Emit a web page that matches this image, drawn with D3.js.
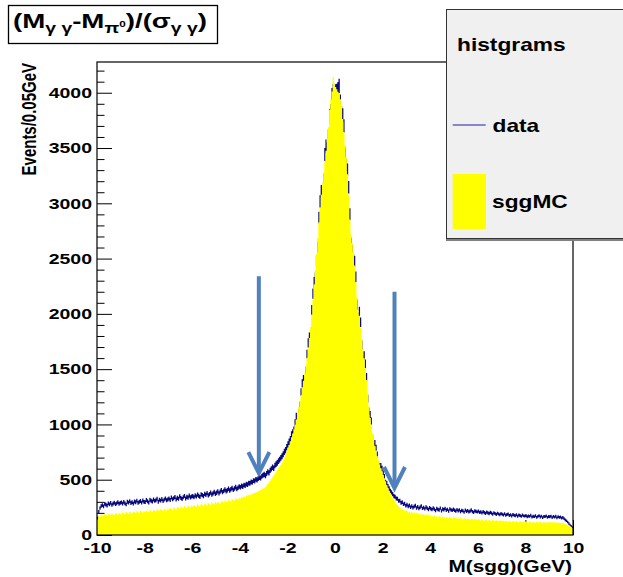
<!DOCTYPE html>
<html>
<head>
<meta charset="utf-8">
<script src="https://cdn.jsdelivr.net/npm/d3@7/dist/d3.min.js"></script>
<style>
  html, body { margin: 0; padding: 0; background: #ffffff; }
  svg { display: block; }
  text { font-family: "Liberation Sans", Arial, Helvetica, sans-serif; font-weight: bold; fill: #000; }
  .tick text { font-size: 15px; }
</style>
</head>
<body>
<svg id="chart" width="623" height="577"></svg>
<script>
// ---- Histogram binning: M(sgg) from -10 to 10 GeV, 0.05 GeV per bin ----
const xMin = -10;
const xMax = 10;
const binWidth = 0.05;

// Measured data, events per bin (one line per GeV)
const dataCounts = [
  152, 212, 243, 262, 270, 259, 281, 274, 266, 285, 277, 290, 271, 284, 292, 279, 286, 297, 281, 290,
  295, 283, 299, 287, 276, 301, 292, 306, 289, 298, 284, 303, 296, 311, 290, 299, 307, 293, 312, 300,
  298, 316, 305, 292, 319, 310, 303, 322, 309, 315, 327, 301, 318, 311, 325, 306, 320, 331, 314, 322,
  330, 317, 339, 324, 333, 344, 321, 336, 328, 349, 335, 326, 342, 353, 331, 345, 338, 356, 340, 348,
  352, 341, 359, 348, 365, 354, 344, 368, 360, 351, 372, 363, 379, 358, 370, 384, 366, 377, 389, 373,
  382, 395, 377, 392, 405, 388, 399, 411, 396, 404, 418, 402, 413, 425, 408, 421, 433, 417, 428, 439,
  432, 445, 438, 452, 447, 461, 455, 470, 466, 481, 476, 492, 488, 503, 497, 512, 520, 515, 531, 540,
  548, 537, 556, 570, 562, 585, 598, 612, 604, 628, 641, 652, 668, 681, 697, 712, 730, 752, 768, 795,
  820, 844, 865, 908, 927, 951, 1014, 1074, 1056, 1104, 1172, 1292, 1371, 1409, 1401, 1481, 1636, 1737, 1789, 1816,
  2036, 2183, 2285, 2324, 2476, 2604, 2871, 3017, 3110, 3106, 3211, 3441, 3517, 3491, 3609, 3790, 3837, 3980, 4016, 4011,
  4014, 4018, 4033, 4062, 3922, 3816, 3799, 3699, 3445, 3347, 3302, 3145, 2901, 2640, 2575, 2501, 2477, 2334, 2084, 1973,
  2020, 1924, 1717, 1621, 1622, 1548, 1428, 1233, 1120, 1088, 1031, 882, 830, 830, 789, 728, 645, 621, 627, 602,
  560, 528, 478, 466, 441, 420, 398, 386, 370, 352, 346, 330, 327, 309, 311, 290, 297, 278, 284, 265,
  274, 259, 268, 251, 263, 247, 258, 266, 244, 255, 239, 251, 262, 241, 248, 236, 253, 242, 231, 246,
  238, 229, 244, 233, 221, 240, 231, 226, 243, 219, 235, 228, 241, 224, 232, 217, 236, 227, 222, 233,
  224, 215, 230, 219, 227, 212, 223, 218, 206, 225, 214, 221, 209, 217, 226, 211, 205, 219, 213, 208,
  215, 204, 210, 199, 212, 203, 196, 207, 200, 193, 205, 198, 188, 201, 194, 186, 197, 190, 183, 195,
  187, 181, 192, 178, 185, 189, 176, 183, 172, 186, 179, 174, 184, 170, 181, 177, 168, 180, 173, 171,
  176, 165, 172, 169, 178, 161, 170, 166, 174, 160, 168, 175, 163, 171, 158, 169, 166, 173, 159, 167,
  165, 171, 158, 168, 162, 170, 155, 166, 160, 163, 152, 159, 148, 137, 129, 118, 104, 93, 81, 68
];

// Simulated signal (sggMC), events per bin
const mcCounts = [
  136, 176, 168, 185, 179, 171, 190, 183, 176, 194, 186, 180, 197, 188, 181, 199, 190, 184, 201, 192,
  186, 203, 195, 189, 208, 199, 192, 211, 204, 196, 213, 205, 199, 216, 207, 201, 219, 210, 204, 217,
  209, 222, 214, 207, 226, 218, 211, 229, 220, 214, 232, 223, 217, 235, 226, 219, 238, 229, 222, 240,
  231, 244, 236, 229, 249, 240, 234, 253, 245, 238, 257, 248, 242, 261, 252, 246, 264, 256, 250, 266,
  257, 270, 262, 255, 275, 267, 260, 280, 271, 265, 285, 276, 269, 289, 281, 274, 293, 284, 278, 296,
  288, 299, 292, 286, 306, 298, 292, 312, 304, 299, 319, 310, 305, 325, 317, 312, 332, 324, 320, 338,
  331, 343, 338, 349, 345, 357, 352, 363, 360, 371, 368, 379, 377, 388, 386, 397, 396, 408, 409, 421,
  423, 435, 448, 462, 476, 491, 506, 522, 538, 555, 572, 588, 603, 619, 636, 655, 677, 701, 728, 756,
  786, 815, 848, 884, 918, 957, 998, 1045, 1102, 1158, 1214, 1267, 1331, 1394, 1458, 1532, 1604, 1688, 1781, 1881,
  1995, 2128, 2266, 2398, 2541, 2687, 2829, 2958, 3077, 3184, 3279, 3383, 3476, 3581, 3688, 3846, 3938, 4012, 4144, 4088,
  4052, 4031, 4008, 3993, 3941, 3897, 3762, 3645, 3528, 3417, 3262, 3079, 2853, 2718, 2641, 2557, 2438, 2286, 2148, 2027,
  1984, 1877, 1772, 1683, 1598, 1509, 1402, 1283, 1161, 1058, 993, 921, 862, 808, 761, 714, 676, 641, 604, 573,
  546, 513, 487, 452, 428, 398, 381, 352, 337, 316, 303, 283, 272, 256, 249, 238, 234, 225, 223, 216,
  219, 206, 213, 200, 209, 196, 205, 193, 201, 189, 198, 186, 195, 183, 191, 180, 188, 177, 185, 174,
  178, 168, 171, 176, 163, 169, 160, 172, 165, 158, 167, 161, 155, 164, 158, 152, 162, 156, 150, 159,
  153, 147, 158, 150, 144, 155, 148, 141, 152, 146, 140, 150, 144, 138, 148, 142, 137, 146, 140, 135,
  144, 137, 132, 141, 135, 130, 139, 133, 128, 137, 131, 127, 136, 130, 125, 134, 129, 124, 133, 127,
  131, 125, 121, 129, 124, 119, 128, 122, 118, 127, 121, 117, 126, 120, 116, 125, 119, 115, 124, 118,
  122, 116, 113, 121, 115, 112, 120, 114, 111, 119, 116, 112, 121, 115, 110, 119, 114, 111, 118, 113,
  117, 113, 116, 112, 115, 111, 114, 110, 113, 109, 111, 107, 104, 100, 96, 91, 85, 78, 70, 62
];

// Axis ticks and labels
const xTickValues = [-10, -8, -6, -4, -2, 0, 2, 4, 6, 8, 10];
const yTickValues = [0, 500, 1000, 1500, 2000, 2500, 3000, 3500, 4000];
const yMax = 4278;
const xTitle = "M(sgg)(GeV)";
const yTitle = "Events/0.05GeV";

// Selection-window arrows (x position, top and tip in event units)
const arrowX = [-3.2, 2.5];
const arrowTop = [2340, 2200];
const arrowTip = [560, 425];

// Legend
const legendHeader = "histgrams";
const seriesNames = ["data", "sggMC"];

// ---- Colours and layout ----
const dataColor = "#0a0a80";
const mcColor = "#ffff00";
const arrowColor = "#4f81bd";
const textScaleX = 1.3;
const plot = { left: 97, right: 573, top: 62, bottom: 535 };

const svg = d3.select("#chart");

const x = d3.scaleLinear().domain([xMin, xMax]).range([plot.left, plot.right]);
const y = d3.scaleLinear().domain([0, yMax]).range([plot.bottom, plot.top]);

const edge = i => xMin + i * binWidth;

// ---- Tick marks (drawn first; histograms cover them) ----
const yMinor = d3.range(100, 4201, 100).filter(v => v % 500 !== 0);
const xMinor = d3.range(-9.6, 10, 0.4).map(v => Math.round(v * 10) / 10).filter(v => Math.abs(v % 2) > 1e-6);

const ticks = svg.append("g").attr("color", "#000");

ticks.append("g")
  .attr("transform", `translate(${plot.left},0)`)
  .call(d3.axisLeft(y).tickValues(yMinor).tickSize(-7.5).tickSizeOuter(0).tickFormat(""))
  .call(g => g.select(".domain").remove());

const yAxis = ticks.append("g")
  .attr("transform", `translate(${plot.left},0)`)
  .call(d3.axisLeft(y).tickValues(yTickValues).tickSize(-15).tickSizeOuter(0).tickPadding(0)
        .tickFormat(d => String(d)))
  .call(g => g.select(".domain").remove());
yAxis.attr("font-size", null).attr("font-family", null);
yAxis.selectAll("text").attr("x", null).attr("transform", `translate(-5,0) scale(${textScaleX},1)`);

ticks.append("g")
  .attr("transform", `translate(0,${plot.bottom})`)
  .call(d3.axisBottom(x).tickValues(xMinor).tickSize(-7.5).tickSizeOuter(0).tickFormat(""))
  .call(g => g.select(".domain").remove());

const xAxis = ticks.append("g")
  .attr("transform", `translate(0,${plot.bottom})`)
  .call(d3.axisBottom(x).tickValues(xTickValues).tickSize(-15).tickSizeOuter(0).tickPadding(7.5)
        .tickFormat(d => String(d)))
  .call(g => g.select(".domain").remove());
xAxis.attr("font-size", null).attr("font-family", null);
xAxis.selectAll("text").attr("transform", `scale(${textScaleX},1)`);

// ---- data: bin-width bars with statistical error bars ----
let errPath = "";
dataCounts.forEach((v, i) => {
  const x0 = x(edge(i)), x1 = x(edge(i + 1)), xc = x(edge(i) + binWidth / 2);
  const e = Math.sqrt(v);
  errPath += `M${x0},${y(v)}H${x1}M${xc},${y(v + e)}V${y(v - e)}`;
});
svg.append("path").attr("d", errPath)
  .attr("fill", "none").attr("stroke", dataColor).attr("stroke-width", 1.3);

// ---- sggMC: filled step histogram, drawn over the data ----
const mcSteps = [];
mcCounts.forEach((v, i) => { mcSteps.push([edge(i), v]); mcSteps.push([edge(i + 1), v]); });
const area = d3.area().x(d => x(d[0])).y0(y(0)).y1(d => y(d[1]));
svg.append("path").attr("d", area(mcSteps)).attr("fill", mcColor).attr("stroke", "none");

// ---- Frame ----
svg.append("rect")
  .attr("x", plot.left).attr("y", plot.top)
  .attr("width", plot.right - plot.left).attr("height", plot.bottom - plot.top)
  .attr("fill", "none").attr("stroke", "#000").attr("stroke-width", 1.2);

// ---- Axis titles ----
svg.append("text")
  .attr("text-anchor", "end").attr("font-size", 16)
  .attr("transform", `translate(572,572) scale(${textScaleX},1)`)
  .text(xTitle);

svg.append("text")
  .attr("text-anchor", "end").attr("font-size", 15)
  .attr("transform", `translate(36,63) scale(${textScaleX},1) rotate(-90)`)
  .text(yTitle);

// ---- Arrows marking the selection window ----
const arrows = svg.append("g")
  .attr("stroke", arrowColor).attr("stroke-width", 4).attr("fill", "none");
arrowX.forEach((ax, i) => {
  const px = x(ax), top = y(arrowTop[i]), tip = y(arrowTip[i]);
  arrows.append("line").attr("x1", px).attr("x2", px).attr("y1", top).attr("y2", tip - 2);
  arrows.append("path")
    .attr("stroke-linejoin", "miter")
    .attr("d", `M${px - 10.5},${tip - 21}L${px},${tip}L${px + 10.5},${tip - 21}`);
});

// ---- Legend ----
const leg = svg.append("g");
leg.append("rect").attr("x", 446).attr("y", 238.5).attr("width", 180).attr("height", 2.5).attr("fill", "#808080");
leg.append("rect").attr("x", 446.5).attr("y", 9.5).attr("width", 200).attr("height", 229)
  .attr("fill", "#f0f0f0").attr("stroke", "#333").attr("stroke-width", 1);
leg.append("text").attr("font-size", 17.5)
  .attr("transform", `translate(457,50.8) scale(${textScaleX},1)`).text(legendHeader);
leg.append("line").attr("x1", 452.7).attr("x2", 485.7).attr("y1", 125).attr("y2", 125)
  .attr("stroke", "#1c1ca0").attr("stroke-width", 1.2);
leg.append("text").attr("font-size", 17.5)
  .attr("transform", `translate(492.5,131.5) scale(${textScaleX},1)`).text(seriesNames[0]);
leg.append("rect").attr("x", 452.7).attr("y", 174).attr("width", 33.3).attr("height", 55).attr("fill", mcColor);
leg.append("text").attr("font-size", 17.5)
  .attr("transform", `translate(492,208.3) scale(${textScaleX},1)`).text(seriesNames[1]);

// ---- Title box: (M_γγ - M_π0)/(σ_γγ) ----
svg.append("rect").attr("x", 8.5).attr("y", 5.5).attr("width", 209).attr("height", 38)
  .attr("fill", "#fff").attr("stroke", "#000").attr("stroke-width", 1.3);
const title = svg.append("text").attr("font-size", 20);
const parts = [
  { t: "(M", s: 20, dy: 0 },
  { t: "γ γ", s: 14, dy: 4.3 },
  { t: "-M", s: 20, dy: -4.3 },
  { t: "π", s: 14, dy: 4.3 },
  { t: "0", s: 8.5, dy: -5.6 },
  { t: ")/(σ", s: 20, dy: 1.3 },
  { t: "γ γ", s: 14, dy: 4.3 },
  { t: ")", s: 20, dy: -4.3 }
];
parts.forEach(p => title.append("tspan").attr("font-size", p.s).attr("dy", p.dy).text(p.t));
const tw = title.node().getComputedTextLength();
title.attr("transform", `translate(13,28.3) scale(${194 / tw},1)`);
</script>
</body>
</html>
